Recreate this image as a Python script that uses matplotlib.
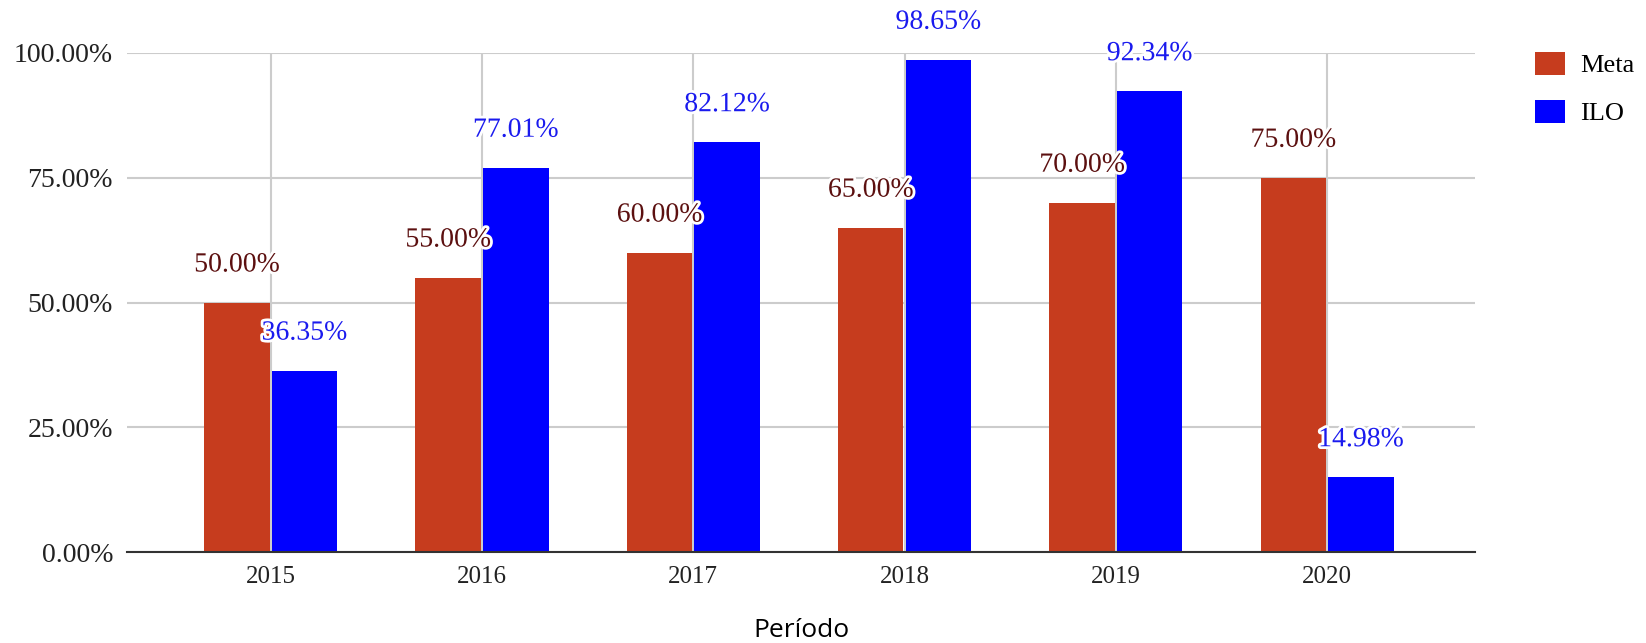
import numpy as np
import matplotlib.pyplot as plt
import matplotlib.patheffects as pe
from matplotlib.patches import Patch

years = ['2015', '2016', '2017', '2018', '2019', '2020']
meta = [50.00, 55.00, 60.00, 65.00, 70.00, 75.00]
ilo = [36.35, 77.01, 82.12, 98.65, 92.34, 14.98]

meta_color = '#c63c1e'
ilo_color = '#0000ff'
serif = ['Liberation Serif', 'DejaVu Serif']

fig = plt.figure(figsize=(16.46, 6.43), dpi=100)
ax = fig.add_axes([127 / 1646, 1 - 552 / 643, 1348 / 1646, 499 / 643])

x = np.arange(len(years))
w = 0.31
gap = 0.005
ax.bar(x - w / 2 - gap, meta, width=w, color=meta_color, zorder=3)
ax.bar(x + w / 2 + gap, ilo, width=w, color=ilo_color, zorder=3)

halo = [pe.withStroke(linewidth=4, foreground='white')]
for i in range(len(years)):
    ax.annotate('{:.2f}%'.format(meta[i]), (x[i] - w / 2 - gap, meta[i]), xytext=(0, 27),
                textcoords='offset points', ha='center', va='center', fontsize=20,
                family=serif, color='#5c1010', path_effects=halo, zorder=5)
    ax.annotate('{:.2f}%'.format(ilo[i]), (x[i] + w / 2 + gap, ilo[i]), xytext=(0, 27),
                textcoords='offset points', ha='center', va='center', fontsize=20,
                family=serif, color='#1a1aee', path_effects=halo, zorder=5)

ax.set_xlim(-0.68, 5.7)
ax.set_ylim(0, 100)
ax.set_yticks([0, 25, 50, 75, 100])
ax.set_yticklabels(['{:.2f}%'.format(v) for v in [0, 25, 50, 75, 100]], family=serif, fontsize=20, color='#222222')
ax.set_xticks(x)
ax.set_xticklabels(years, family=serif, fontsize=18, color='#222222')
ax.tick_params(length=0, pad=10)
ax.tick_params(axis='y', pad=10)
ax.grid(True, color='#cccccc', linewidth=1.5, zorder=0)
for s in ['top', 'right', 'left']:
    ax.spines[s].set_visible(False)
ax.spines['bottom'].set_color('#333333')
ax.spines['bottom'].set_linewidth(1.5)
ax.spines['bottom'].set_zorder(4)

ax.set_xlabel('Período', family=['Open Sans', 'DejaVu Sans'], fontsize=19, labelpad=22)

handles = [Patch(facecolor=meta_color, label='Meta'), Patch(facecolor=ilo_color, label='ILO')]
fig.legend(handles=handles, loc='upper left', bbox_to_anchor=(1535 / 1646, 1 - 52 / 643),
           frameon=False, prop={'family': serif, 'size': 19}, handlelength=1.15,
           handleheight=0.95, handletextpad=0.55, labelspacing=0.85, borderpad=0,
           borderaxespad=0)

fig.savefig('out.png', dpi=100)
plt.close()
